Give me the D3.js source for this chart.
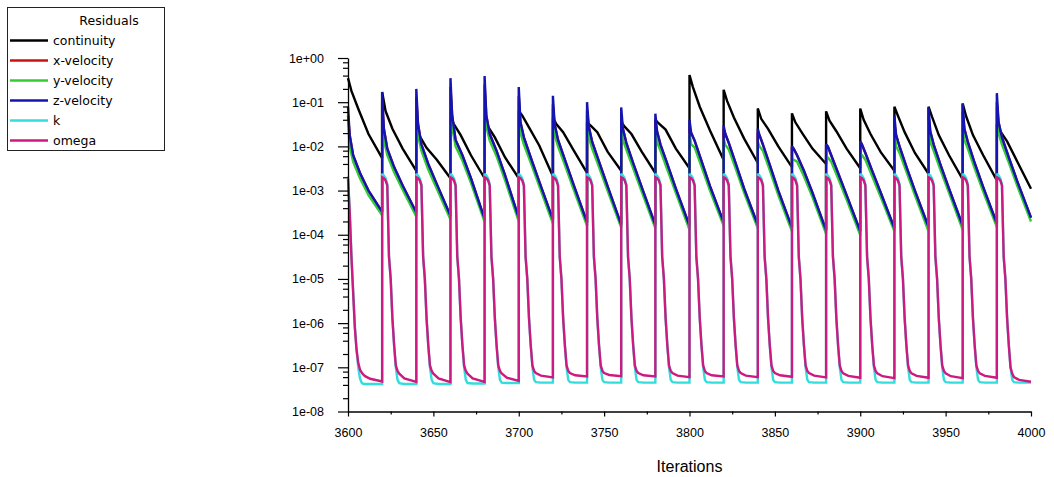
<!DOCTYPE html>
<html><head><meta charset="utf-8">
<script src="https://cdn.jsdelivr.net/npm/d3@7"></script>
<style>html,body{margin:0;padding:0;background:#fff;} svg{display:block;}</style>
</head><body><svg id="chart" width="1054" height="477"></svg>
<script>
// ---------------- DATA ----------------
const periodStarts = [3600,3620,3640,3660,3680,3700,3720,3740,3760,3780,3800,3820,3840,3860,3880,3900,3920,3940,3960,3980];

const seriesNames = ["continuity","x-velocity","y-velocity","z-velocity","k","omega"];
const seriesColors = ["#000000","#cc1111","#33cc33","#1414b0","#33dddd","#cc1a80"];

const xTickValues = [3600,3650,3700,3750,3800,3850,3900,3950,4000];
const xMinorTicks = [3625,3675,3725,3775,3825,3875,3925,3975];
const yTickValues = [1e-8,1e-7,1e-6,1e-5,1e-4,1e-3,1e-2,1e-1,1e0];
const yTickLabels = ["1e-08","1e-07","1e-06","1e-05","1e-04","1e-03","1e-02","1e-01","1e+00"];

// iteration offsets (from each time-step start) at which values were read
const contOffsets = [0, 2, 6, 12, 20];
const velOffsets  = [0, 1, 3, 7, 12, 20];
const turbOffsets = [0, 1, 2, 3, 4, 5, 6, 7, 8, 9, 10, 13, 20];

const continuity = [
 [3.5e-1, 1.8e-1, 7.1e-2, 1.9e-2, 5.4e-3],
 [1.7e-1, 6.3e-2, 2.5e-2, 8.9e-3, 2.8e-3],
 [3.2e-2, 1.7e-2, 9.3e-3, 5.0e-3, 1.9e-3],
 [4.5e-2, 3.2e-2, 1.8e-2, 6.3e-3, 1.9e-3],
 [4.0e-2, 2.8e-2, 1.6e-2, 5.6e-3, 1.9e-3],
 [6.3e-2, 5.0e-2, 2.7e-2, 1.05e-2, 2.1e-3],
 [4.5e-2, 3.2e-2, 2.1e-2, 8.3e-3, 2.5e-3],
 [3.5e-2, 3.0e-2, 2.1e-2, 7.6e-3, 2.8e-3],
 [3.5e-2, 2.8e-2, 1.9e-2, 7.6e-3, 2.5e-3],
 [4.0e-2, 3.3e-2, 2.4e-2, 8.9e-3, 3.2e-3],
 [4.1e-1, 2.2e-1, 7.9e-2, 2.3e-2, 4.9e-3],
 [1.9e-1, 1.07e-1, 4.5e-2, 1.5e-2, 4.2e-3],
 [7.2e-2, 4.2e-2, 2.5e-2, 1.0e-2, 3.4e-3],
 [5.6e-2, 3.5e-2, 2.0e-2, 8.9e-3, 4.0e-3],
 [6.2e-2, 3.8e-2, 2.2e-2, 8.9e-3, 3.2e-3],
 [7.2e-2, 4.0e-2, 1.9e-2, 7.4e-3, 2.8e-3],
 [7.9e-2, 5.0e-2, 2.1e-2, 7.1e-3, 2.4e-3],
 [7.9e-2, 4.7e-2, 1.8e-2, 6.3e-3, 1.8e-3],
 [9.3e-2, 4.8e-2, 1.8e-2, 6.3e-3, 1.7e-3],
 [3.2e-2, 2.2e-2, 1.3e-2, 4.5e-3, 1.1e-3]
];

const xVelocity = [
 [5.0e-2, 1.8e-2, 6.3e-3, 2.5e-3, 1.0e-3, 3.3e-4],
 [1.05e-1, 2.5e-2, 8.9e-3, 3.4e-3, 1.3e-3, 3.2e-4],
 [1.3e-1, 3.2e-2, 1.1e-2, 4.0e-3, 1.4e-3, 2.7e-4],
 [2.2e-1, 5.0e-2, 1.4e-2, 6.3e-3, 1.9e-3, 2.3e-4],
 [2.5e-1, 5.0e-2, 1.9e-2, 7.9e-3, 2.2e-3, 2.4e-4],
 [1.4e-1, 3.5e-2, 1.6e-2, 5.6e-3, 1.6e-3, 2.2e-4],
 [8.9e-2, 3.2e-2, 1.4e-2, 5.0e-3, 1.4e-3, 1.9e-4],
 [6.5e-2, 2.8e-2, 1.26e-2, 4.5e-3, 1.26e-3, 1.7e-4],
 [4.8e-2, 2.5e-2, 1.2e-2, 4.2e-3, 1.2e-3, 1.66e-4],
 [3.5e-2, 2.2e-2, 1.1e-2, 4.0e-3, 1.1e-3, 1.6e-4],
 [2.5e-2, 2.0e-2, 1.35e-2, 4.7e-3, 1.26e-3, 1.9e-4],
 [2.5e-2, 1.9e-2, 1.2e-2, 4.2e-3, 1.1e-3, 1.66e-4],
 [2.0e-2, 1.8e-2, 1.1e-2, 3.8e-3, 1.0e-3, 1.45e-4],
 [1.0e-2, 8.9e-3, 6.3e-3, 2.8e-3, 8.9e-4, 1.26e-4],
 [1.1e-2, 1.0e-2, 6.3e-3, 2.5e-3, 7.9e-4, 1.2e-4],
 [1.3e-2, 1.1e-2, 7.1e-3, 2.8e-3, 8.9e-4, 1.4e-4],
 [3.2e-2, 1.8e-2, 1.0e-2, 3.5e-3, 1.0e-3, 1.5e-4],
 [4.8e-2, 2.2e-2, 1.1e-2, 3.8e-3, 1.1e-3, 1.6e-4],
 [5.9e-2, 2.5e-2, 1.26e-2, 4.2e-3, 1.2e-3, 1.8e-4],
 [1.0e-1, 3.5e-2, 1.6e-2, 5.6e-3, 1.6e-3, 2.45e-4]
];

const yVelocity = [
 [4.0e-2, 1.0e-2, 4.5e-3, 1.9e-3, 7.9e-4, 2.75e-4],
 [8.3e-2, 1.4e-2, 6.3e-3, 2.6e-3, 1.05e-3, 2.6e-4],
 [1.0e-1, 1.8e-2, 7.9e-3, 3.0e-3, 1.1e-3, 2.2e-4],
 [1.8e-1, 2.8e-2, 1.0e-2, 4.8e-3, 1.5e-3, 1.95e-4],
 [1.95e-1, 2.8e-2, 1.35e-2, 6.0e-3, 1.7e-3, 2.0e-4],
 [1.1e-1, 2.0e-2, 1.1e-2, 4.3e-3, 1.26e-3, 1.8e-4],
 [7.1e-2, 1.8e-2, 1.0e-2, 3.8e-3, 1.1e-3, 1.6e-4],
 [5.1e-2, 1.6e-2, 8.9e-3, 3.4e-3, 1.0e-3, 1.45e-4],
 [3.8e-2, 1.4e-2, 8.5e-3, 3.2e-3, 9.5e-4, 1.4e-4],
 [2.75e-2, 1.26e-2, 7.9e-3, 3.0e-3, 8.9e-4, 1.3e-4],
 [2.0e-2, 1.1e-2, 9.5e-3, 3.5e-3, 1.0e-3, 1.6e-4],
 [1.5e-2, 1.07e-2, 8.5e-3, 3.2e-3, 8.9e-4, 1.4e-4],
 [1.26e-2, 1.0e-2, 7.9e-3, 2.9e-3, 7.9e-4, 1.2e-4],
 [5.0e-3, 5.0e-3, 4.5e-3, 2.1e-3, 7.1e-4, 1.05e-4],
 [5.6e-3, 5.6e-3, 4.5e-3, 1.9e-3, 6.3e-4, 9.8e-5],
 [6.5e-3, 6.3e-3, 5.0e-3, 2.1e-3, 7.1e-4, 1.2e-4],
 [2.5e-2, 1.0e-2, 7.1e-3, 2.7e-3, 7.9e-4, 1.2e-4],
 [3.8e-2, 1.26e-2, 7.9e-3, 2.9e-3, 8.9e-4, 1.3e-4],
 [4.7e-2, 1.4e-2, 8.9e-3, 3.2e-3, 9.5e-4, 1.5e-4],
 [7.9e-2, 2.0e-2, 1.1e-2, 4.3e-3, 1.26e-3, 2.0e-4]
];

const zVelocity = [
 [7.9e-2, 1.8e-2, 6.3e-3, 2.5e-3, 1.0e-3, 3.3e-4],
 [1.7e-1, 2.5e-2, 8.9e-3, 3.4e-3, 1.3e-3, 3.2e-4],
 [2.0e-1, 3.2e-2, 1.1e-2, 4.0e-3, 1.4e-3, 2.7e-4],
 [3.5e-1, 5.0e-2, 1.4e-2, 6.3e-3, 1.9e-3, 2.3e-4],
 [3.9e-1, 5.0e-2, 1.9e-2, 7.9e-3, 2.2e-3, 2.4e-4],
 [2.2e-1, 3.5e-2, 1.6e-2, 5.6e-3, 1.6e-3, 2.2e-4],
 [1.4e-1, 3.2e-2, 1.4e-2, 5.0e-3, 1.4e-3, 1.9e-4],
 [1.0e-1, 2.8e-2, 1.26e-2, 4.5e-3, 1.26e-3, 1.7e-4],
 [7.6e-2, 2.5e-2, 1.2e-2, 4.2e-3, 1.2e-3, 1.66e-4],
 [5.5e-2, 2.2e-2, 1.1e-2, 4.0e-3, 1.1e-3, 1.6e-4],
 [4.0e-2, 2.0e-2, 1.35e-2, 4.7e-3, 1.26e-3, 1.9e-4],
 [2.95e-2, 1.9e-2, 1.2e-2, 4.2e-3, 1.1e-3, 1.66e-4],
 [2.5e-2, 1.8e-2, 1.1e-2, 3.8e-3, 1.0e-3, 1.45e-4],
 [1.0e-2, 8.9e-3, 6.3e-3, 2.8e-3, 8.9e-4, 1.26e-4],
 [1.1e-2, 1.0e-2, 6.3e-3, 2.5e-3, 7.9e-4, 1.2e-4],
 [1.3e-2, 1.1e-2, 7.1e-3, 2.8e-3, 8.9e-4, 1.4e-4],
 [5.0e-2, 1.8e-2, 1.0e-2, 3.5e-3, 1.0e-3, 1.5e-4],
 [7.6e-2, 2.2e-2, 1.1e-2, 3.8e-3, 1.1e-3, 1.6e-4],
 [9.3e-2, 2.5e-2, 1.26e-2, 4.2e-3, 1.2e-3, 1.8e-4],
 [1.6e-1, 3.5e-2, 1.6e-2, 5.6e-3, 1.6e-3, 2.45e-4]
];

const kValues = [
 [2.1e-3, 3.5e-4, 3.5e-5, 5.6e-6, 8.9e-7, 2.5e-7, 1.0e-7, 5.6e-8, 4.5e-8, 4.2e-8, 4.2e-8, 4.2e-8, 4.2e-8],
 [2.4e-3, 2.2e-3, 1.9e-3, 1.4e-3, 3.2e-5, 1.0e-5, 1.3e-6, 3.2e-7, 1.0e-7, 5.2e-8, 4.4e-8, 4.2e-8, 4.2e-8],
 [2.4e-3, 2.2e-3, 1.9e-3, 1.4e-3, 3.2e-5, 1.0e-5, 1.3e-6, 3.2e-7, 1.0e-7, 5.2e-8, 4.4e-8, 4.2e-8, 4.2e-8],
 [2.4e-3, 2.2e-3, 1.9e-3, 1.4e-3, 3.2e-5, 1.0e-5, 1.3e-6, 3.2e-7, 1.0e-7, 5.2e-8, 4.4e-8, 4.3e-8, 4.3e-8],
 [2.4e-3, 2.2e-3, 1.9e-3, 1.4e-3, 3.2e-5, 1.0e-5, 1.3e-6, 3.2e-7, 1.0e-7, 5.2e-8, 4.5e-8, 4.4e-8, 4.4e-8],
 [2.4e-3, 2.2e-3, 1.9e-3, 1.4e-3, 3.2e-5, 1.0e-5, 1.3e-6, 3.2e-7, 1.0e-7, 5.2e-8, 4.6e-8, 4.5e-8, 4.5e-8],
 [2.4e-3, 2.2e-3, 1.9e-3, 1.4e-3, 3.2e-5, 1.0e-5, 1.3e-6, 3.2e-7, 1.0e-7, 5.2e-8, 4.6e-8, 4.5e-8, 4.5e-8],
 [2.4e-3, 2.2e-3, 1.9e-3, 1.4e-3, 3.2e-5, 1.0e-5, 1.3e-6, 3.2e-7, 1.0e-7, 5.2e-8, 4.6e-8, 4.5e-8, 4.5e-8],
 [2.4e-3, 2.2e-3, 1.9e-3, 1.4e-3, 3.2e-5, 1.0e-5, 1.3e-6, 3.2e-7, 1.0e-7, 5.2e-8, 4.6e-8, 4.5e-8, 4.5e-8],
 [2.4e-3, 2.2e-3, 1.9e-3, 1.4e-3, 3.2e-5, 1.0e-5, 1.3e-6, 3.2e-7, 1.0e-7, 5.2e-8, 4.6e-8, 4.5e-8, 4.5e-8],
 [2.4e-3, 2.2e-3, 1.9e-3, 1.4e-3, 3.2e-5, 1.0e-5, 1.3e-6, 3.2e-7, 1.0e-7, 5.2e-8, 4.6e-8, 4.5e-8, 4.5e-8],
 [2.4e-3, 2.2e-3, 1.9e-3, 1.4e-3, 3.2e-5, 1.0e-5, 1.3e-6, 3.2e-7, 1.0e-7, 5.2e-8, 4.6e-8, 4.5e-8, 4.5e-8],
 [2.4e-3, 2.2e-3, 1.9e-3, 1.4e-3, 3.2e-5, 1.0e-5, 1.3e-6, 3.2e-7, 1.0e-7, 5.2e-8, 4.6e-8, 4.5e-8, 4.5e-8],
 [2.4e-3, 2.2e-3, 1.9e-3, 1.4e-3, 3.2e-5, 1.0e-5, 1.3e-6, 3.2e-7, 1.0e-7, 5.2e-8, 4.6e-8, 4.5e-8, 4.5e-8],
 [2.4e-3, 2.2e-3, 1.9e-3, 1.4e-3, 3.2e-5, 1.0e-5, 1.3e-6, 3.2e-7, 1.0e-7, 5.2e-8, 4.6e-8, 4.5e-8, 4.5e-8],
 [2.4e-3, 2.2e-3, 1.9e-3, 1.4e-3, 3.2e-5, 1.0e-5, 1.3e-6, 3.2e-7, 1.0e-7, 5.2e-8, 4.6e-8, 4.5e-8, 4.5e-8],
 [2.4e-3, 2.2e-3, 1.9e-3, 1.4e-3, 3.2e-5, 1.0e-5, 1.3e-6, 3.2e-7, 1.0e-7, 5.2e-8, 4.6e-8, 4.5e-8, 4.5e-8],
 [2.4e-3, 2.2e-3, 1.9e-3, 1.4e-3, 3.2e-5, 1.0e-5, 1.3e-6, 3.2e-7, 1.0e-7, 5.2e-8, 4.6e-8, 4.5e-8, 4.5e-8],
 [2.4e-3, 2.2e-3, 1.9e-3, 1.4e-3, 3.2e-5, 1.0e-5, 1.3e-6, 3.2e-7, 1.0e-7, 5.2e-8, 4.6e-8, 4.5e-8, 4.5e-8],
 [2.4e-3, 2.2e-3, 1.9e-3, 1.4e-3, 3.2e-5, 1.0e-5, 1.3e-6, 3.2e-7, 1.0e-7, 5.2e-8, 4.6e-8, 4.5e-8, 4.5e-8]
];

const omegaValues = [
 [1.8e-3, 3.2e-4, 3.2e-5, 5.0e-6, 7.9e-7, 2.5e-7, 1.26e-7, 8.9e-8, 7.6e-8, 6.8e-8, 6.3e-8, 5.5e-8, 4.8e-8],
 [2.0e-3, 1.9e-3, 1.7e-3, 1.3e-3, 3.2e-5, 1.0e-5, 1.3e-6, 3.2e-7, 1.1e-7, 8.3e-8, 7.2e-8, 5.6e-8, 4.7e-8],
 [2.0e-3, 1.9e-3, 1.7e-3, 1.3e-3, 3.2e-5, 1.0e-5, 1.3e-6, 3.2e-7, 1.1e-7, 8.3e-8, 7.2e-8, 5.6e-8, 4.6e-8],
 [2.0e-3, 1.9e-3, 1.7e-3, 1.3e-3, 3.2e-5, 1.0e-5, 1.3e-6, 3.2e-7, 1.1e-7, 8.3e-8, 7.2e-8, 5.6e-8, 4.7e-8],
 [2.0e-3, 1.9e-3, 1.7e-3, 1.3e-3, 3.2e-5, 1.0e-5, 1.3e-6, 3.2e-7, 1.1e-7, 8.3e-8, 7.3e-8, 5.8e-8, 4.9e-8],
 [2.0e-3, 1.9e-3, 1.7e-3, 1.3e-3, 3.2e-5, 1.0e-5, 1.3e-6, 3.2e-7, 1.1e-7, 8.3e-8, 7.4e-8, 6.5e-8, 5.9e-8],
 [2.0e-3, 1.9e-3, 1.7e-3, 1.3e-3, 3.2e-5, 1.0e-5, 1.3e-6, 3.2e-7, 1.1e-7, 8.3e-8, 7.4e-8, 6.6e-8, 6.2e-8],
 [2.0e-3, 1.9e-3, 1.7e-3, 1.3e-3, 3.2e-5, 1.0e-5, 1.3e-6, 3.2e-7, 1.1e-7, 8.3e-8, 7.4e-8, 6.7e-8, 6.3e-8],
 [2.0e-3, 1.9e-3, 1.7e-3, 1.3e-3, 3.2e-5, 1.0e-5, 1.3e-6, 3.2e-7, 1.1e-7, 8.3e-8, 7.4e-8, 6.6e-8, 6.2e-8],
 [2.0e-3, 1.9e-3, 1.7e-3, 1.3e-3, 3.2e-5, 1.0e-5, 1.3e-6, 3.2e-7, 1.1e-7, 8.3e-8, 7.4e-8, 6.5e-8, 6.0e-8],
 [2.0e-3, 1.9e-3, 1.7e-3, 1.3e-3, 3.2e-5, 1.0e-5, 1.3e-6, 3.2e-7, 1.1e-7, 8.3e-8, 7.4e-8, 6.6e-8, 6.2e-8],
 [2.0e-3, 1.9e-3, 1.7e-3, 1.3e-3, 3.2e-5, 1.0e-5, 1.3e-6, 3.2e-7, 1.1e-7, 8.3e-8, 7.4e-8, 6.5e-8, 6.0e-8],
 [2.0e-3, 1.9e-3, 1.7e-3, 1.3e-3, 3.2e-5, 1.0e-5, 1.3e-6, 3.2e-7, 1.1e-7, 8.3e-8, 7.4e-8, 6.6e-8, 6.1e-8],
 [2.0e-3, 1.9e-3, 1.7e-3, 1.3e-3, 3.2e-5, 1.0e-5, 1.3e-6, 3.2e-7, 1.1e-7, 8.3e-8, 7.4e-8, 6.5e-8, 5.9e-8],
 [2.0e-3, 1.9e-3, 1.7e-3, 1.3e-3, 3.2e-5, 1.0e-5, 1.3e-6, 3.2e-7, 1.1e-7, 8.3e-8, 7.3e-8, 6.4e-8, 5.8e-8],
 [2.0e-3, 1.9e-3, 1.7e-3, 1.3e-3, 3.2e-5, 1.0e-5, 1.3e-6, 3.2e-7, 1.1e-7, 8.3e-8, 7.3e-8, 6.3e-8, 5.7e-8],
 [2.0e-3, 1.9e-3, 1.7e-3, 1.3e-3, 3.2e-5, 1.0e-5, 1.3e-6, 3.2e-7, 1.1e-7, 8.3e-8, 7.3e-8, 6.4e-8, 5.8e-8],
 [2.0e-3, 1.9e-3, 1.7e-3, 1.3e-3, 3.2e-5, 1.0e-5, 1.3e-6, 3.2e-7, 1.1e-7, 8.3e-8, 7.3e-8, 6.3e-8, 5.7e-8],
 [2.0e-3, 1.9e-3, 1.7e-3, 1.3e-3, 3.2e-5, 1.0e-5, 1.3e-6, 3.2e-7, 1.1e-7, 8.3e-8, 7.3e-8, 6.4e-8, 5.8e-8],
 [2.0e-3, 1.9e-3, 1.7e-3, 1.3e-3, 3.2e-5, 1.0e-5, 1.3e-6, 3.2e-7, 1.0e-7, 7.2e-8, 6.0e-8, 5.2e-8, 4.7e-8]
];

// ---------------- DRAWING ----------------
const W = 1054, H = 477;
const svg = d3.select("#chart");
svg.append("rect").attr("width", W).attr("height", H).attr("fill", "#fff");

const x = d3.scaleLinear().domain([3600, 4000]).range([348, 1031]);
const y = d3.scaleLog().domain([1e-8, 1]).range([411.5, 58]);

const tickFont = "'Liberation Sans', Arial, sans-serif";

function buildPoints(rows, offsets) {
  const pts = [];
  rows.forEach((row, k) => row.forEach((v, j) => pts.push([periodStarts[k] + offsets[j], v])));
  return pts;
}

const seriesData = [
  buildPoints(continuity, contOffsets),
  buildPoints(xVelocity, velOffsets),
  buildPoints(yVelocity, velOffsets),
  buildPoints(zVelocity, velOffsets),
  buildPoints(kValues, turbOffsets),
  buildPoints(omegaValues, turbOffsets)
];

const line = d3.line().x(d => x(d[0])).y(d => y(d[1]));

const plot = svg.append("g");
seriesData.forEach((pts, i) => {
  plot.append("path")
    .attr("d", line(pts))
    .attr("fill", "none")
    .attr("stroke", seriesColors[i])
    .attr("stroke-width", 2.4)
    .attr("stroke-linejoin", "miter")
    .attr("stroke-miterlimit", 2);
});

// Y axis
svg.append("g").attr("transform", "translate(348,0)")
  .call(d3.axisLeft(y).tickValues(yTickValues)
    .tickFormat((d, i) => yTickLabels[i]).tickSize(10).tickSizeOuter(0).tickPadding(14));
// minor y ticks
const yMinor = [];
yTickValues.slice(0, -1).forEach(d => [2, 4, 6, 8].forEach(m => yMinor.push(d * m)));
svg.append("g").attr("transform", "translate(348,0)")
  .call(d3.axisLeft(y).tickValues(yMinor).tickFormat("").tickSize(5).tickSizeOuter(0))
  .select(".domain").remove();

// X axis
svg.append("g").attr("transform", "translate(0,411.5)")
  .call(d3.axisBottom(x).tickValues(xTickValues).tickFormat(d3.format("d"))
    .tickSize(5).tickSizeOuter(0).tickPadding(11.5));
svg.append("g").attr("transform", "translate(0,411.5)")
  .call(d3.axisBottom(x).tickValues(xMinorTicks).tickFormat("").tickSize(3).tickSizeOuter(0))
  .select(".domain").remove();

svg.selectAll(".tick text").attr("font-family", tickFont).attr("font-size", "12.5px").attr("fill", "#000");
svg.selectAll(".tick line").attr("stroke", "#000").attr("stroke-width", 1.2);
svg.selectAll(".domain").attr("stroke", "#000").attr("stroke-width", 1.3);

svg.append("text").attr("x", 689.5).attr("y", 472)
  .attr("text-anchor", "middle").attr("font-family", tickFont).attr("font-size", "16px")
  .attr("fill", "#000").text("Iterations");

// Legend
const legend = svg.append("g");
legend.append("rect").attr("x", 7.5).attr("y", 7.5).attr("width", 157).attr("height", 143)
  .attr("fill", "#fff").attr("stroke", "#222").attr("stroke-width", 1);
const legFont = "'DejaVu Sans', Verdana, sans-serif";
legend.append("text").attr("x", 109).attr("y", 24.5).attr("text-anchor", "middle")
  .attr("font-family", legFont).attr("font-size", "12.5px").attr("fill", "#000").text("Residuals");
seriesNames.forEach((name, i) => {
  const ly = 40.5 + i * 20;
  legend.append("line").attr("x1", 10).attr("x2", 48).attr("y1", ly).attr("y2", ly)
    .attr("stroke", seriesColors[i]).attr("stroke-width", 2.5);
  legend.append("text").attr("x", 53).attr("y", ly + 4.5)
    .attr("font-family", legFont).attr("font-size", "12.5px").attr("fill", "#000").text(name);
});
</script>
</body></html>
